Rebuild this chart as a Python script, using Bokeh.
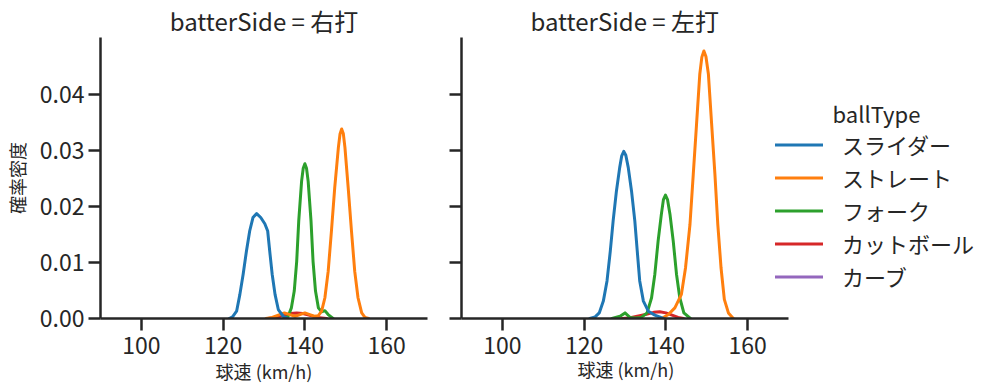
from bokeh.plotting import figure
from bokeh.models import Range1d, FixedTicker, Label, Legend, LegendItem, NumeralTickFormatter, Title
from bokeh.layouts import row
from bokeh.embed import file_html
from bokeh.resources import INLINE

FONT = "Noto Sans CJK JP"
TXT = "#262626"
NAN = float("nan")

# ---------------- data ----------------
panels = ["右打", "左打"]
ball_types = ["スライダー", "ストレート", "フォーク", "カットボール", "カーブ"]
colors = ["#1f77b4", "#ff7f0e", "#2ca02c", "#d62728", "#9467bd"]
x_ticks = [100, 120, 140, 160]
y_ticks = [0.0, 0.01, 0.02, 0.03, 0.04]
x_domain = (90, 170)
y_domain = (0, 0.0501)
x_label = "球速 (km/h)"
y_label = "確率密度"
legend_title = "ballType"

# batterSide = 右打
slider_R_x = [121.5, 122.3, 123.3, 124.1, 124.9, 125.7, 126.5, 127.3, 128.2, 129.2, 130.2, 130.9, 131.4, 132.0, 132.7, 133.5, 134.7, 135.9]
slider_R_y = [0, 0.0003, 0.0013, 0.0043, 0.0079, 0.0120, 0.0156, 0.0180, 0.0187, 0.0180, 0.0169, 0.0156, 0.0120, 0.0079, 0.0043, 0.0016, 0.0004, 0]
straight_R_x = [130.5, 132.0, 133.5, 135.0, 136.3, 137.6, 138.8, 140.0, 141.2, 142.3, 143.3, 144.1, 144.9, 145.7, 146.5, 147.3, 148.2, 148.6, 149.0, 149.4, 149.8, 150.6, 151.4, 152.2, 153.0, 153.9, 154.7, 155.6]
straight_R_y = [0, 0.0002, 0.0006, 0.0010, 0.0007, 0.0004, 0.0007, 0.0010, 0.0007, 0.0004, 0.0005, 0.0013, 0.0037, 0.0084, 0.0156, 0.0233, 0.0305, 0.0329, 0.0338, 0.0330, 0.0305, 0.0233, 0.0156, 0.0084, 0.0037, 0.0010, 0.0002, 0]
fork_R_x = [134.8, 135.9, 136.7, 137.4, 138.0, 138.5, 139.2, 139.6, 140.0, 140.4, 140.8, 141.5, 142.0, 142.6, 143.3, 144.1, 144.9, 145.7, 146.9]
fork_R_y = [0, 0.0004, 0.0019, 0.0049, 0.0102, 0.0174, 0.0245, 0.0268, 0.0276, 0.0268, 0.0245, 0.0174, 0.0102, 0.0049, 0.0019, 0.0012, 0.0014, 0.0007, 0]
cutter_R_x = [131.0, 133.0, 135.0, 136.5, 138.0, 139.5, 141.0, 143.0, 145.3]
cutter_R_y = [0, 0.0002, 0.0006, 0.0009, 0.0010, 0.0009, 0.0006, 0.0002, 0]
curve_R_x = [NAN]   # カーブ: no density drawn
curve_R_y = [NAN]

# batterSide = 左打
slider_L_x = [121.4, 122.7, 123.7, 124.7, 125.6, 126.4, 127.1, 127.9, 128.7, 129.2, 129.7, 130.2, 130.8, 131.6, 132.4, 133.0, 133.6, 134.5, 135.7, 137.3, 139.4]
slider_L_y = [0, 0.0003, 0.0010, 0.0031, 0.0067, 0.0120, 0.0174, 0.0227, 0.0269, 0.0290, 0.0298, 0.0291, 0.0269, 0.0227, 0.0174, 0.0120, 0.0067, 0.0031, 0.0013, 0.0006, 0]
straight_L_x = [139.0, 140.6, 142.2, 143.8, 144.8, 145.9, 146.7, 147.5, 148.3, 148.8, 149.3, 149.8, 150.4, 151.2, 152.0, 152.7, 153.5, 154.3, 155.3, 156.5]
straight_L_y = [0, 0.0007, 0.0019, 0.0043, 0.0090, 0.0168, 0.0257, 0.0346, 0.0436, 0.0466, 0.0477, 0.0467, 0.0436, 0.0346, 0.0257, 0.0168, 0.0090, 0.0034, 0.0010, 0]
fork_L_x = [126.8, 128.8, 130.0, 131.2, 132.5, 134.0, 135.4, 136.5, 137.3, 138.1, 138.9, 139.4, 139.9, 140.4, 141.0, 141.8, 142.6, 143.4, 144.4, 146.0]
fork_L_y = [0, 0.0004, 0.0010, 0.0002, 0.0001, 0.0002, 0.0010, 0.0037, 0.0079, 0.0138, 0.0186, 0.0212, 0.0220, 0.0212, 0.0186, 0.0138, 0.0079, 0.0037, 0.0010, 0]
cutter_L_x = [129.3, 131.0, 133.0, 135.0, 137.0, 138.5, 140.0, 141.5, 143.0, 144.3]
cutter_L_y = [0, 0.0001, 0.0004, 0.0007, 0.0011, 0.0012, 0.0010, 0.0006, 0.0002, 0]
curve_L_x = [NAN]
curve_L_y = [NAN]

series = {
    "右打": [(slider_R_x, slider_R_y), (straight_R_x, straight_R_y), (fork_R_x, fork_R_y),
             (cutter_R_x, cutter_R_y), (curve_R_x, curve_R_y)],
    "左打": [(slider_L_x, slider_L_y), (straight_L_x, straight_L_y), (fork_L_x, fork_L_y),
             (cutter_L_x, cutter_L_y), (curve_L_x, curve_L_y)],
}

FRAME_H = 281
AX_W = 327          # width of one panel's plotting area
TOP, BOTTOM = 37, 73
H = TOP + FRAME_H + BOTTOM

W1, BL1, BR1 = 448, 100, 21
W2, BL2 = 549, 13
FRAME2_W = W2 - BL2  # second frame extends under the legend
x_hi2 = x_domain[0] + (x_domain[1] - x_domain[0]) * FRAME2_W / AX_W


def make_fig(side, width, border_left, border_right, x_end, first):
    p = figure(width=width, height=H,
               x_range=Range1d(x_domain[0], x_end), y_range=Range1d(*y_domain),
               output_backend="svg", toolbar_location=None,
               min_border_left=border_left, min_border_right=border_right,
               min_border_top=TOP, min_border_bottom=BOTTOM)
    p.outline_line_color = None
    p.grid.visible = False
    p.background_fill_color = "white"
    p.border_fill_color = "white"
    p.title.text = "batterSide = " + side
    p.title.text_font = FONT
    p.title.text_font_size = "24px"
    p.title.text_font_style = "normal"
    p.title.text_color = TXT
    p.title.standoff = 0
    for ax in (p.xaxis, p.yaxis):
        ax.axis_line_color = TXT
        ax.axis_line_width = 2.5
        ax.major_tick_line_color = TXT
        ax.major_tick_line_width = 2.5
        ax.major_tick_out = 12
        ax.major_tick_in = 0
        ax.minor_tick_line_color = None
        ax.major_label_text_font = FONT
        ax.major_label_text_font_size = "23px"
        ax.major_label_text_color = TXT
        ax.axis_label_text_font = FONT
        ax.axis_label_text_font_size = "18px"
        ax.axis_label_text_font_style = "normal"
        ax.axis_label_text_color = TXT
    p.xaxis.bounds = x_domain
    p.xaxis.ticker = FixedTicker(ticks=x_ticks)
    p.yaxis.ticker = FixedTicker(ticks=y_ticks)
    p.yaxis.formatter = NumeralTickFormatter(format="0.00")
    p.xaxis.major_label_standoff = 6
    if first:
        p.xaxis.axis_label = x_label
        p.xaxis.axis_label_standoff = 1
        p.yaxis.axis_label = y_label
        p.yaxis.major_label_standoff = 4
        p.yaxis.axis_label_standoff = 7
    else:
        p.yaxis.major_label_text_color = None
        p.yaxis.major_label_text_font_size = "0px"
        p.yaxis.major_label_standoff = 0

    rs = {}
    for i in reversed(range(len(ball_types))):
        xs, ys = series[side][i]
        rs[i] = p.line(xs, ys, line_color=colors[i], line_width=3,
                       line_join="round", line_cap="round")
    return p, [rs[i] for i in range(len(ball_types))]


p1, r1 = make_fig("右打", W1, BL1, BR1, x_domain[1], True)
p1.title.align = "center"
p2, r2 = make_fig("左打", W2, BL2, 0, x_hi2, False)
p2.title.align = "left"
p2.title.offset = 69
# x-axis label of the second panel, centred under its own axis
p2.add_layout(Title(text=x_label, align="left", offset=116, standoff=-5,
                    text_font=FONT, text_font_size="18px", text_font_style="normal",
                    text_color=TXT), "below")

legend = Legend(items=[LegendItem(label=ball_types[i], renderers=[r2[i]]) for i in range(len(ball_types))],
                location=(314, 26), orientation="vertical",
                label_text_font=FONT, label_text_font_size="22px", label_text_color=TXT,
                glyph_width=48, glyph_height=27, label_height=27, label_standoff=19,
                spacing=1, padding=0, margin=0,
                border_line_color=None, background_fill_alpha=0)
p2.add_layout(legend, "center")
p2.add_layout(Label(x=415, y=206, x_units="screen", y_units="screen", text=legend_title,
                    text_font=FONT, text_font_size="22px", text_color=TXT,
                    text_align="center", text_baseline="middle"))

layout = row(p1, p2)
open("out.html", "w").write(file_html(layout, INLINE))
